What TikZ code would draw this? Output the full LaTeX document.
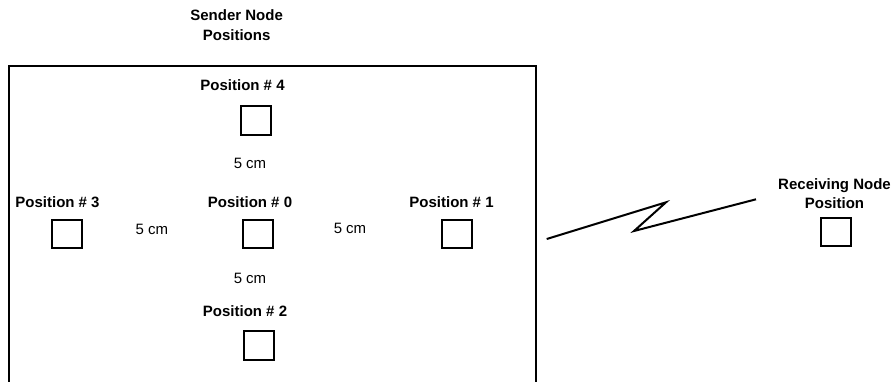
\documentclass[tikz,border=0pt]{standalone}
\usepackage{fontspec}
\setmainfont{Liberation Sans}
\begin{document}
\begin{tikzpicture}[x=1pt,y=-1pt,
  lbl/.style={font=\bfseries\fontsize{15}{19.5}\selectfont, inner sep=0pt, text height=10.7pt, text depth=0pt},
  lbltwo/.style={font=\bfseries\fontsize{15}{19.5}\selectfont, inner sep=0pt, align=center},
  dist/.style={font=\fontsize{15}{19.5}\selectfont, inner sep=0pt, text height=10.7pt, text depth=0pt},
  spot/.style={draw, line width=2pt, minimum width=30pt, minimum height=28.5pt, inner sep=0pt},
  thick line/.style={line width=2pt}]
\useasboundingbox (0,0) rectangle (893,381);
% frame
\draw[thick line] (9,383) -- (9,66) -- (536,66) -- (536,383);
% title
\node[lbltwo, anchor=north] (title) at (236.6,9.6) {Sender Node\\Positions};
% squares
\node[spot] (p4) at (256,120.5) {};
\node[spot] (p3) at (66.5,234) {};
\node[spot] (p0) at (258,234) {};
\node[spot] (p1) at (456.5,234) {};
\node[spot] (p2) at (258.5,345.5) {};
\node[spot] (rx) at (836,232) {};
% labels
\node[lbl] (l4) at (242.5,85.5) {Position \# 4};
\node[lbl] (l3) at (57.5,202.5) {Position \# 3};
\node[lbl] (l0) at (250,202.3) {Position \# 0};
\node[lbl] (l1) at (451.5,202.5) {Position \# 1};
\node[lbl] (l2) at (245,310.7) {Position \# 2};
\node[lbltwo, anchor=north] (lrx) at (834.5,178) {Receiving Node\\Position};
% distances
\node[dist] (dtop) at (250,162.7) {5 cm};
\node[dist] (dleft) at (152,229) {5 cm};
\node[dist] (dright) at (350,228) {5 cm};
\node[dist] (dbot) at (250,278.3) {5 cm};
% link
\coordinate (z0) at (546.7,239);
\coordinate (z1) at (666,202.3);
\coordinate (z2) at (634,231);
\coordinate (z3) at (756,199.3);
\draw[thick line] (z0) -- (z1) -- (z2) -- (z3);
\end{tikzpicture}
\end{document}
